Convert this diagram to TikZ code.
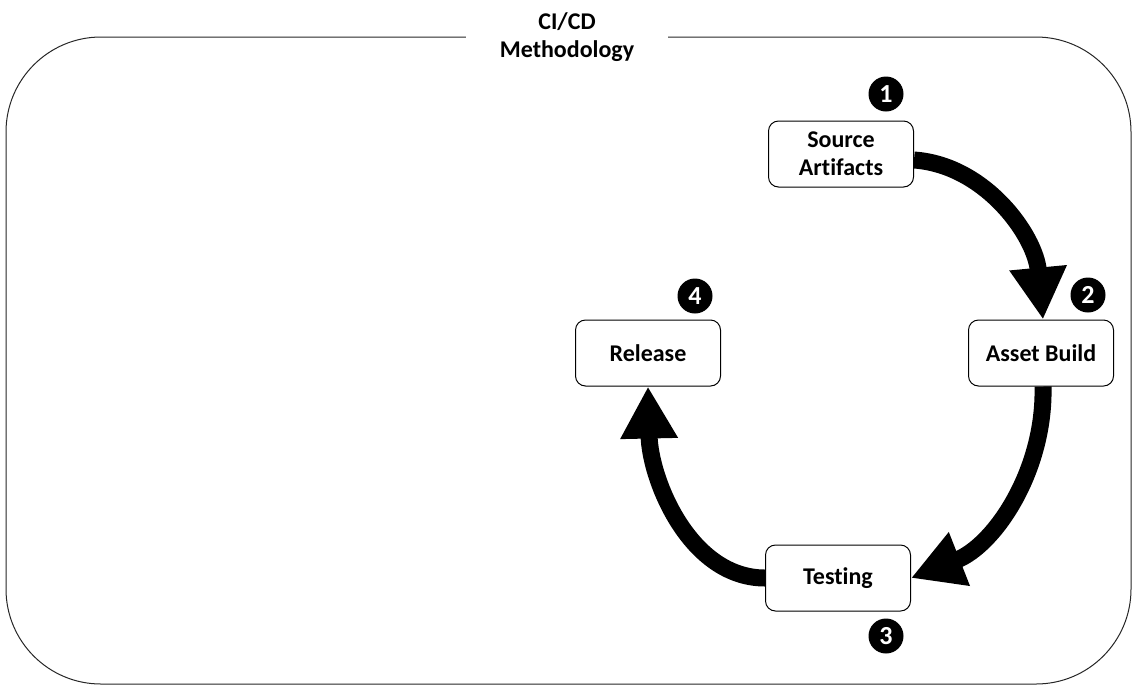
\documentclass[tikz,border=0pt]{standalone}
\usepackage{fontspec}
\setmainfont{Carlito}[Ligatures=CommonOff]
\usetikzlibrary{arrows.meta}
\begin{document}
\begin{tikzpicture}[x=1pt,y=-1pt,
  stepbox/.style={draw=black,line width=1pt,rounded corners=10pt,fill=white,minimum width=145pt,minimum height=66pt,align=center,font=\bfseries\fontsize{24}{28}\selectfont},
  badge/.style={circle,fill=black,minimum size=35pt,inner sep=0pt,text=white,font=\bfseries\fontsize{26}{26}\selectfont},
  bigarrow/.style={line width=17pt,-{Triangle[length=52pt,width=54pt]}},
  frame/.style={draw=black!85,line width=1pt,rounded corners=95pt}]
\useasboundingbox (0,0) rectangle (1137,689);
\draw[frame] (6,37) rectangle (1131,684);
\node[fill=white,minimum width=202pt,align=center,inner sep=2pt,font=\bfseries\fontsize{24}{28}\selectfont] (title) at (567,37) {CI/CD\\Methodology};
\node[stepbox] (sa) at (841,154) {Source\\Artifacts};
\node[stepbox] (ab) at (1041,353) {Asset Build};
\node[stepbox] (te) at (838,578) {Testing};
\node[stepbox] (re) at (648,353) {Release};
\node[badge] (b1) at (886,94) {1};
\node[badge] (b2) at (1088,295) {2};
\node[badge] (b3) at (886,636) {3};
\node[badge] (b4) at (695,296) {4};
\draw[bigarrow] ([yshift=-6pt]sa.east) .. controls (985,165) and (1035,235) .. ([xshift=2pt]ab.north);
\draw[bigarrow] ([xshift=2pt]ab.south) .. controls (1045,470) and (995,545) .. (te.east);
\draw[bigarrow] (te.west) .. controls (690,578) and (650,480) .. (re.south);
\end{tikzpicture}
\end{document}
